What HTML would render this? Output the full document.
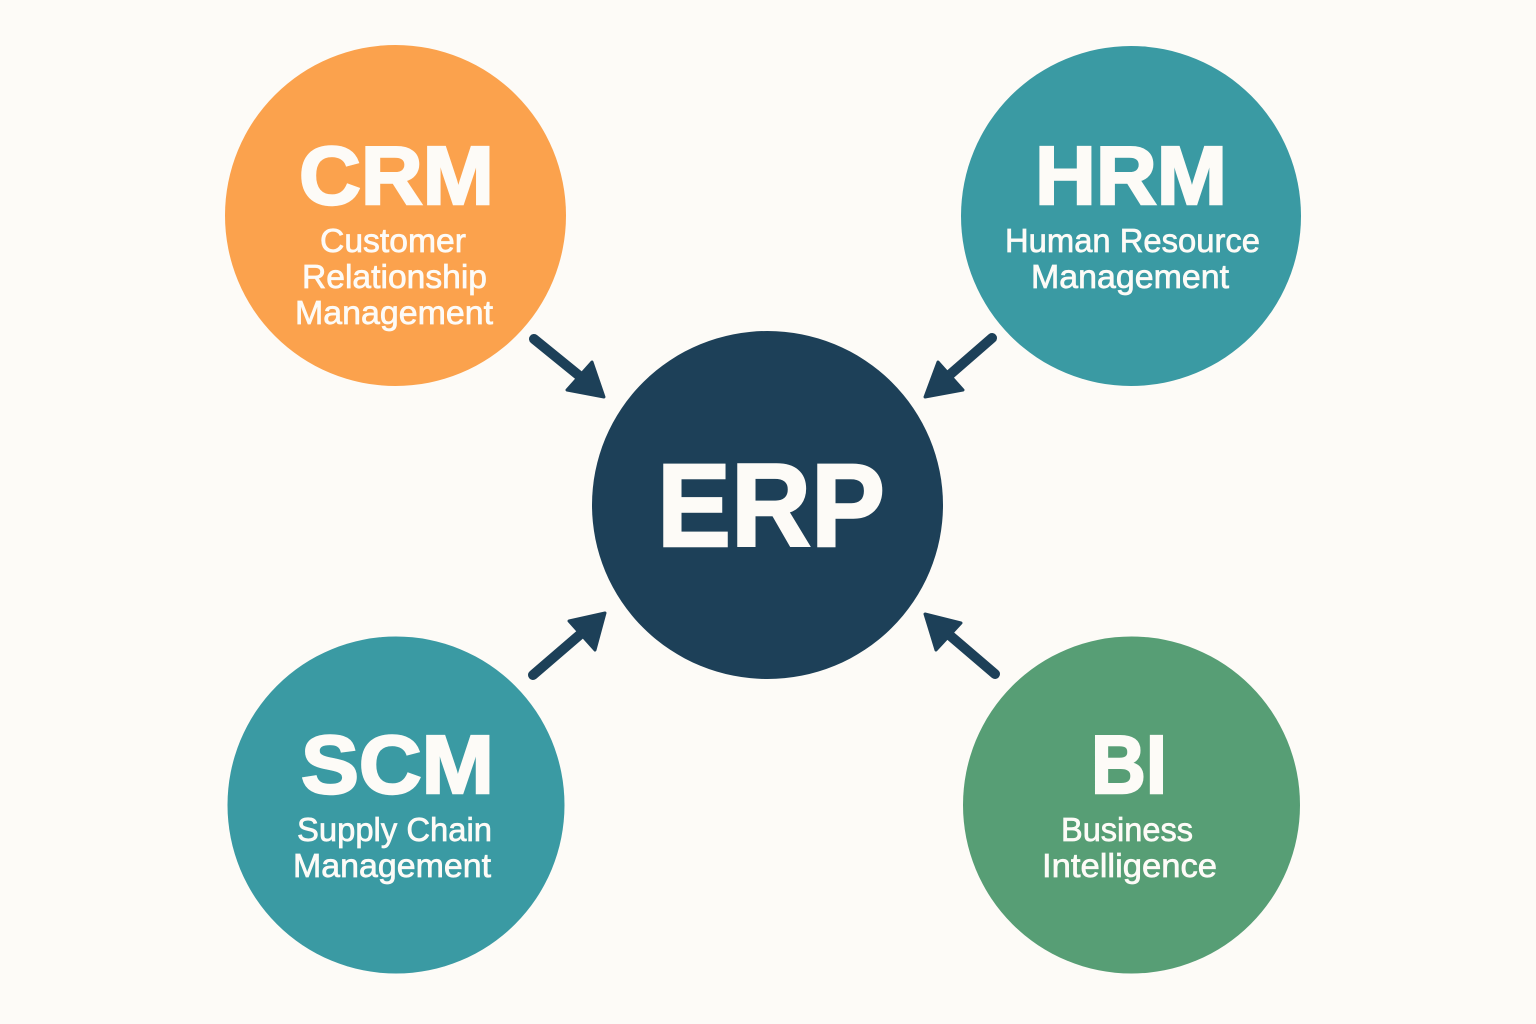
<!DOCTYPE html>
<html lang="en">
<head>
<meta charset="utf-8">
<title>ERP Diagram</title>
<style>
html,body{margin:0;padding:0;background:#fdfbf7;}
svg{display:block;}
text{font-family:"Liberation Sans",sans-serif;fill:#fdfbf7;}
.b{font-weight:700;stroke:#fdfbf7;stroke-width:2.4px;stroke-linejoin:miter;}
.s{font-size:33.500px;stroke:#fdfbf7;stroke-width:.7px;}
</style>
</head>
<body>
<svg width="1536" height="1024" viewBox="0 0 1536 1024" xmlns="http://www.w3.org/2000/svg">
<rect width="1536" height="1024" fill="#fdfbf7"/>

<circle cx="395.500" cy="215.500" r="170.500" fill="#fba24d"/>
<circle cx="1131" cy="216" r="170" fill="#3a9aa3"/>
<circle cx="396" cy="805" r="168.500" fill="#3a9aa3"/>
<circle cx="1131.500" cy="805" r="168.500" fill="#579e75"/>
<ellipse cx="767.500" cy="505" rx="175.500" ry="174" fill="#1d4058"/>

<g stroke="#1d4058" stroke-width="10" stroke-linecap="round" fill="none">
<line x1="534" y1="339" x2="582" y2="378"/>
<line x1="992" y1="338" x2="946" y2="378"/>
<line x1="533" y1="675" x2="583" y2="632"/>
<line x1="995" y1="674" x2="947" y2="633"/>
</g>
<g stroke="#1d4058" stroke-width="3" stroke-linejoin="round" fill="#1d4058">
<polygon points="604,397 592,362 567,390"/>
<polygon points="925,397 938,362 963,390"/>
<polygon points="605,613 569,621 595,650"/>
<polygon points="925,614 961,623 936,650"/>
</g>

<text class="b" x="299" y="204" font-size="83" textLength="195" lengthAdjust="spacingAndGlyphs">CRM</text>
<text class="s" x="320" y="252" textLength="146" lengthAdjust="spacingAndGlyphs">Customer</text>
<text class="s" x="302" y="288" textLength="185" lengthAdjust="spacingAndGlyphs">Relationship</text>
<text class="s" x="295" y="324" textLength="198" lengthAdjust="spacingAndGlyphs">Management</text>

<text class="b" x="1035" y="204" font-size="83" textLength="192" lengthAdjust="spacingAndGlyphs">HRM</text>
<text class="s" x="1005" y="252" textLength="255" lengthAdjust="spacingAndGlyphs">Human Resource</text>
<text class="s" x="1031" y="288" textLength="198" lengthAdjust="spacingAndGlyphs">Management</text>

<text class="b" x="301" y="793" font-size="83" textLength="193" lengthAdjust="spacingAndGlyphs">SCM</text>
<text class="s" x="297" y="841" textLength="195" lengthAdjust="spacingAndGlyphs">Supply Chain</text>
<text class="s" x="293" y="877" textLength="198" lengthAdjust="spacingAndGlyphs">Management</text>

<text class="b" x="1091" y="793" font-size="83" textLength="76" lengthAdjust="spacingAndGlyphs">BI</text>
<text class="s" x="1061" y="841" textLength="132" lengthAdjust="spacingAndGlyphs">Business</text>
<text class="s" x="1042" y="877" textLength="175" lengthAdjust="spacingAndGlyphs">Intelligence</text>

<text class="b" x="657" y="546" font-size="118" textLength="228" lengthAdjust="spacingAndGlyphs">ERP</text>
</svg>
</body>
</html>
